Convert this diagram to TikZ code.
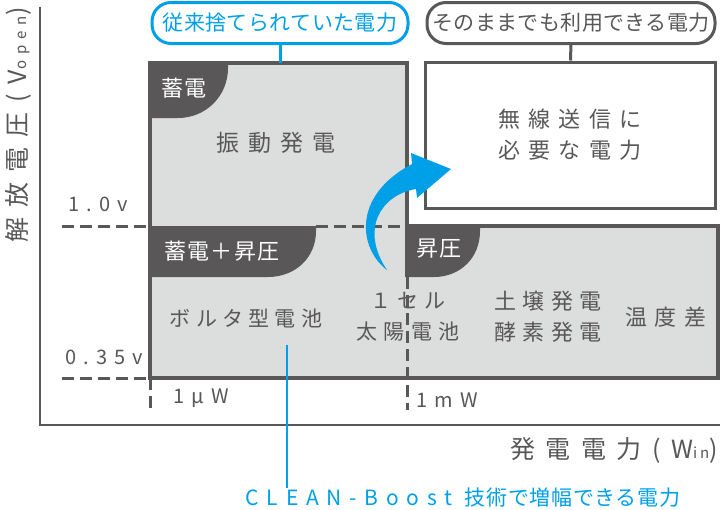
\documentclass[tikz,border=0pt]{standalone}
\usepackage{fontspec}
\setmainfont{Noto Sans CJK JP}
\usetikzlibrary{positioning}
\definecolor{ink}{HTML}{595757}
\definecolor{panel}{HTML}{DCDDDD}
\definecolor{cleanblue}{HTML}{00A0E9}
\newcommand\jpf[2]{\fontsize{#1pt}{31pt}\selectfont\addfontfeatures{LetterSpace=#2}}

\begin{document}
\begin{tikzpicture}[x=1pt,y=-1pt,
		lab/.style={text=ink, inner sep=0pt, align=center},
		tabtxt/.style={text=white, inner sep=0pt},
		frame/.style={draw=ink, line width=4pt},
		guide/.style={draw=ink, line width=3pt, dash pattern=on 12pt off 6pt},
		axis/.style={draw=ink, line width=2pt},
		pill/.style={draw, line width=3pt, fill=white, rounded corners=19pt, minimum height=41pt, inner sep=0pt}]
				\useasboundingbox (0,0) rectangle (720,509);
				
				\draw[axis] (40,7) -- (40,425) -- (720,425);
				\fill[panel] (150,63) rectangle (407,378);
				\fill[panel] (407,226) rectangle (718,378);
				
				\draw[guide] (62,226) -- (150,226);
				\draw[guide] (316,226) -- (407,226);
				\draw[guide] (62,378) -- (150,378);
				\draw[guide] (150,378) -- (150,410);
				\draw[guide] (407,277) -- (407,410);
				
				\fill[ink] (150,63) -- (228,63) -- (228,68) .. controls (228,96) and (206,118) .. (178,118) -- (150,118) -- cycle;
				\fill[ink] (150,226) -- (316,226) -- (316,231) .. controls (316,258) and (295,277) .. (268,277) -- (150,277) -- cycle;
				\fill[ink] (405,226) -- (480,226) -- (480,231) .. controls (480,258) and (460,277) .. (434,277) -- (405,277) -- cycle;
				\draw[frame] (407,226) -- (407,63) -- (150,63) -- (150,378) -- (718,378) -- (718,226) -- cycle;
				
				\node[lab, draw=ink, line width=3pt, minimum width=290pt, minimum height=146pt, font=\jpf{22}{38}] (need) at (570,135) {無線送信に\\必要な電力};
				\node[pill, draw=cleanblue, text=cleanblue, minimum width=256pt, font=\jpf{21}{2}] (waste) at (280,23) {従来捨てられていた電力};
				\node[pill, draw=ink, text=ink, minimum width=288pt, font=\jpf{21}{2}] (direct) at (571,23) {そのままでも利用できる電力};
				\coordinate (vibtop) at (280,63);
				\draw[line width=3pt, cleanblue] (waste) -- (vibtop);
				\draw[line width=3pt, ink] (direct) -- (need);
				
				\node[tabtxt, font=\jpf{22}{5}] (store) at (184,88) {蓄電};
				\node[tabtxt, font=\jpf{22}{5}] (storeboost) at (222,251) {蓄電＋昇圧};
				\node[tabtxt, font=\jpf{22}{5}] (boost) at (439,249) {昇圧};
				
				\node[lab, font=\jpf{23}{40}] (vib) at (276,143) {振動発電};
				\node[lab, font=\jpf{21}{25}] (volta) at (246,318) {ボルタ型電池};
				\node[lab, font=\jpf{21}{30}] (solar) at (408,317) {１セル\\太陽電池};
				\node[lab, font=\jpf{22}{30}] (soil) at (548,317) {土壌発電\\酵素発電};
				\node[lab, font=\jpf{22}{35}] (temp) at (666,317) {温度差};
				
				\node[lab, font=\jpf{20}{35}] (v10) at (98,204) {1.0v};
				\node[lab, font=\jpf{20}{35}] (v035) at (104,357) {0.35v};
				\node[lab, font=\jpf{20}{35}] (uw) at (201,398) {1μW};
				\node[lab, font=\jpf{20}{35}] (mw) at (447,400) {1mW};
				\node[lab, rotate=90, font=\jpf{25}{40}] (ylab) at (18,125) {解放電圧(V{\jpf{15}{40}open})};
				\node[lab, font=\jpf{25}{42}] (xlab) at (614,450) {発電電力(W{\jpf{15}{20}in})};
				
				\fill[cleanblue] (387,270) .. controls (360,250) and (350,197) .. (412,164) -- (411,153) -- (451,169) -- (417,198) -- (416,189) .. controls (380,195) and (360,230) .. (387,270) -- cycle;
				
				\node[lab, text=cleanblue, font=\jpf{21}{37}] (clean) at (463,498) {CLEAN-Boost {\jpf{21}{3}技術で増幅できる電力}};
				\coordinate (cleanpt) at (287,345);
				\draw[line width=2.5pt, cleanblue] (cleanpt) -- (cleanpt |- clean.north);
			\end{tikzpicture}
\end{document}
